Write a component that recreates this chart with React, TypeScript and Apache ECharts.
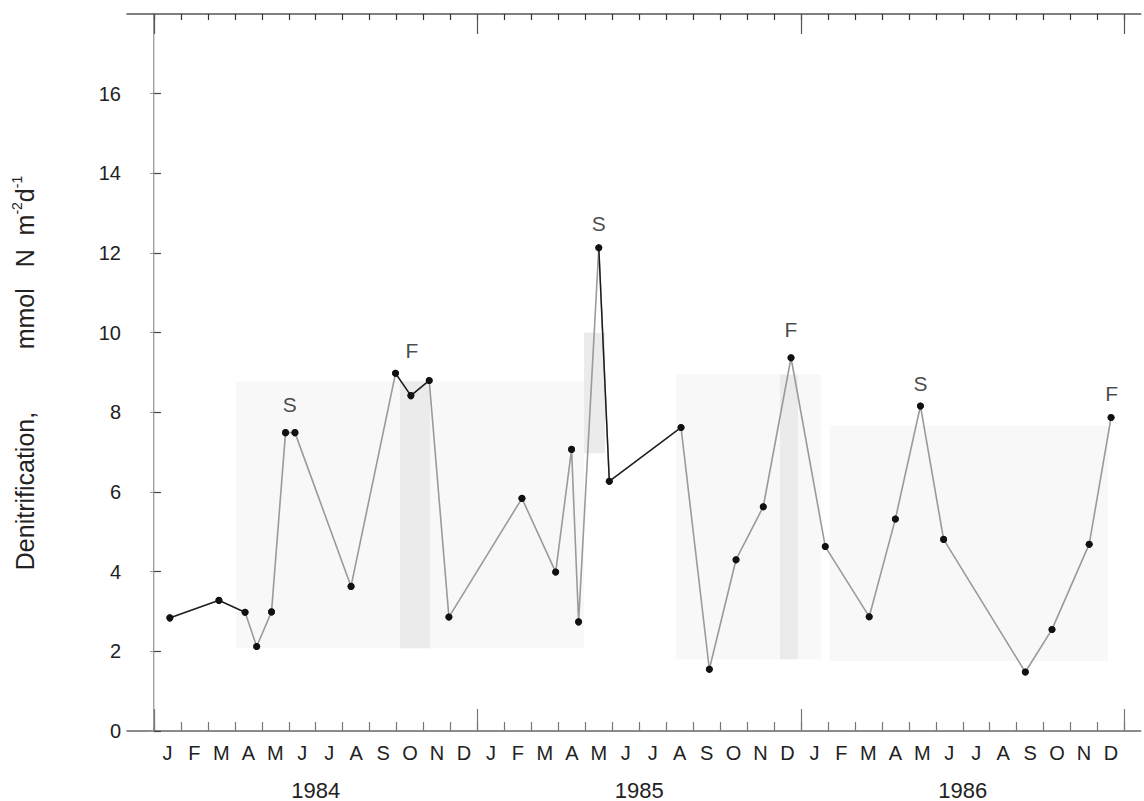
import React, { useEffect, useRef } from "react";
import * as echarts from "echarts";

// ---- data ----
const monthLetters = ["J", "F", "M", "A", "M", "J", "J", "A", "S", "O", "N", "D"];
const yearLabels = ["1984", "1985", "1986"];
const yTickValues = [0, 2, 4, 6, 8, 10, 12, 14, 16];

// months since 1 Jan 1984
const sampleMonth = [
  0.59, 2.41, 3.38, 3.81, 4.36, 4.88, 5.23, 7.31, 8.96, 9.53, 10.21, 10.94,
  13.65, 14.9, 15.49, 15.75, 16.5, 16.89, 19.55, 20.6, 21.59, 22.6, 23.63,
  24.9, 26.53, 27.5, 28.43, 29.29, 32.32, 33.31, 34.69, 35.5,
];
// mmol N m-2 d-1
const denitrification = [
  2.84, 3.28, 2.98, 2.12, 2.99, 7.49, 7.49, 3.63, 8.98, 8.42, 8.8, 2.86,
  5.84, 3.99, 7.07, 2.74, 12.13, 6.27, 7.62, 1.55, 4.3, 5.63, 9.37,
  4.63, 2.87, 5.32, 8.16, 4.81, 1.48, 2.55, 4.69, 7.87,
];
// runs of points joined by black (darker) segments: [firstIndex, lastIndex]
const blackRuns = [
  [0, 2],
  [8, 10],
  [16, 18],
];
// S = spring, F = fall annotations
const annotationMonth = [5.04, 9.57, 16.5, 23.63, 28.43, 35.52];
const annotationValue = [8.2, 9.55, 12.73, 10.07, 8.73, 8.47];
const annotationText = ["S", "F", "S", "F", "S", "F"];
// light shaded periods: [x0, x1, y0, y1]
const shadeRegions = [
  [3.04, 15.95, 2.08, 8.78],
  [19.36, 24.74, 1.8, 8.95],
  [25.07, 35.39, 1.76, 7.67],
];
// darker stippled periods
const stippleRegions = [
  [9.12, 10.24, 2.08, 8.78],
  [15.95, 16.73, 6.97, 10.0],
  [23.22, 23.89, 1.8, 8.95],
];

const FONT = "'Liberation Sans', Arial, Helvetica, sans-serif";

export default function App() {
  const ref = useRef<HTMLDivElement>(null);

  useEffect(() => {
    if (!ref.current) return;
    const chart = echarts.init(ref.current, undefined, { renderer: "svg" });

    const monthTicks: number[] = [];
    for (let i = 0; i <= 36; i++) monthTicks.push(i);
    const monthLabelPos: number[] = [];
    for (let i = 0; i < 36; i++) monthLabelPos.push(i + 0.5);
    const yearTicks = [0, 12, 24, 36];
    const yearLabelPos = [6, 18, 30];

    const points = sampleMonth.map((m, i) => [m, denitrification[i]]);

    const blackSeries = blackRuns.map((r, k) => ({
      type: "line",
      name: "black" + k,
      data: points.slice(r[0], r[1] + 1),
      symbol: "none",
      lineStyle: { color: "#1a1a1a", width: 1.4 },
      z: 4,
    }));

    const xMin = -1;
    const xMax = 36.6;

    const baseX = {
      type: "value",
      min: xMin,
      max: xMax,
      splitLine: { show: false },
      gridIndex: 0,
    };

    const option: any = {
      animation: false,
      backgroundColor: "#ffffff",
      grid: { left: 127, right: 3.3, top: 14, bottom: 69, containLabel: false },
      xAxis: [
        {
          ...baseX,
          position: "bottom",
          axisLine: { show: true, lineStyle: { color: "#666", width: 1.5 } },
          axisTick: {
            show: true,
            inside: true,
            length: 9,
            customValues: monthTicks,
            lineStyle: { color: "#777", width: 1.2 },
          },
          axisLabel: {
            show: true,
            customValues: monthLabelPos,
            formatter: (v: number) => monthLetters[Math.floor(v + 0.001) % 12],
            fontFamily: FONT,
            fontSize: 20,
            color: "#222",
            margin: 12,
          },
        },
        {
          ...baseX,
          position: "bottom",
          axisLine: { show: false },
          axisTick: {
            show: true,
            inside: true,
            length: 22,
            customValues: yearTicks,
            lineStyle: { color: "#777", width: 1.2 },
          },
          axisLabel: {
            show: true,
            customValues: yearLabelPos,
            formatter: (v: number) => yearLabels[Math.round((v - 6) / 12)],
            fontFamily: FONT,
            fontSize: 22,
            color: "#222",
            margin: 48,
          },
        },
        {
          ...baseX,
          position: "top",
          axisLine: { show: true, lineStyle: { color: "#555", width: 1.5 } },
          axisTick: {
            show: true,
            inside: true,
            length: 6,
            customValues: monthTicks,
            lineStyle: { color: "#333", width: 1.2 },
          },
          axisLabel: { show: false },
        },
        {
          ...baseX,
          position: "top",
          axisLine: { show: false },
          axisTick: {
            show: true,
            inside: true,
            length: 20,
            customValues: yearTicks,
            lineStyle: { color: "#555", width: 1.2 },
          },
          axisLabel: { show: false },
        },
      ],
      yAxis: [
        {
          type: "value",
          position: "left",
          min: 0,
          max: 18,
          splitLine: { show: false },
          axisLine: { show: true, lineStyle: { color: "#777", width: 1.5 } },
          axisTick: {
            show: true,
            inside: true,
            length: 7,
            customValues: yTickValues,
            lineStyle: { color: "#444", width: 1.2 },
          },
          axisLabel: {
            show: true,
            customValues: yTickValues,
            fontFamily: FONT,
            fontSize: 20,
            color: "#222",
            margin: 6,
          },
        },
        {
          type: "value",
          position: "right",
          min: 0,
          max: 18,
          splitLine: { show: false },
          axisLine: { show: true, lineStyle: { color: "#ddd", width: 1.2 } },
          axisTick: {
            show: true,
            inside: true,
            length: 4,
            customValues: yTickValues,
            lineStyle: { color: "#999", width: 1 },
          },
          axisLabel: { show: false },
        },
      ],
      series: [
        {
          type: "line",
          name: "Denitrification",
          data: points,
          symbol: "circle",
          symbolSize: 7,
          itemStyle: { color: "#111" },
          lineStyle: { color: "#9a9a9a", width: 1.6 },
          z: 3,
          markArea: {
            silent: true,
            z: 1,
            data: [
              ...shadeRegions.map((r) => [
                { xAxis: r[0], yAxis: r[2], itemStyle: { color: "#f8f8f8" } },
                { xAxis: r[1], yAxis: r[3] },
              ]),
              ...stippleRegions.map((r) => [
                { xAxis: r[0], yAxis: r[2], itemStyle: { color: "#ebebeb" } },
                { xAxis: r[1], yAxis: r[3] },
              ]),
            ],
          },
        },
        ...blackSeries,
        {
          type: "scatter",
          name: "points",
          data: points,
          symbol: "circle",
          symbolSize: 7,
          itemStyle: { color: "#111" },
          z: 5,
        },
        {
          type: "scatter",
          name: "annotations",
          data: annotationMonth.map((m, i) => ({
            value: [m, annotationValue[i]],
            label: {
              show: true,
              formatter: annotationText[i],
              position: "inside",
              fontFamily: FONT,
              fontSize: 21,
              color: "#1a1a1a",
            },
          })),
          symbolSize: 0,
          itemStyle: { color: "transparent" },
          z: 6,
        },
      ],
      graphic: [
        {
          type: "text",
          x: 25,
          y: 373,
          rotation: Math.PI / 2,
          style: {
            text: "{n|Denitrification,         mmol   N  m}{s|-2}{n|d}{s|-1}",
            align: "center",
            verticalAlign: "middle",
            fill: "#222",
            fontFamily: FONT,
            rich: {
              n: { fontSize: 25, fontFamily: FONT, fill: "#222", lineHeight: 30 },
              s: {
                fontSize: 14,
                fontFamily: FONT,
                fill: "#222",
                verticalAlign: "top",
                lineHeight: 30,
              },
            },
          },
        },
      ],
    };

    chart.setOption(option);
    return () => chart.dispose();
  }, []);

  return (
    <div
      ref={ref}
      style={{ position: "absolute", left: 0, top: 0, width: 1144, height: 801 }}
    />
  );
}
